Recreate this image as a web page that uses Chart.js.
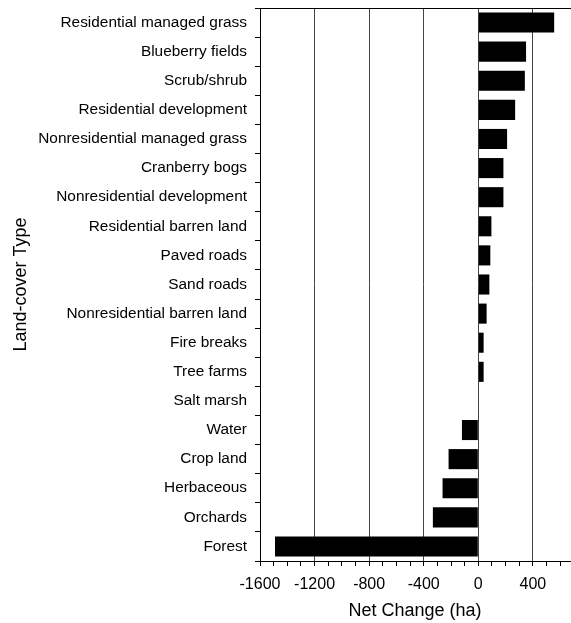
<!DOCTYPE html>
<html>
<head>
<meta charset="utf-8">
<script src="https://cdn.jsdelivr.net/npm/chart.js@4/dist/chart.umd.min.js"></script>
<style>
  html, body { margin: 0; padding: 0; background: #fff; }
  #wrap { width: 571px; height: 623px; }
</style>
</head>
<body>
<div id="wrap"><canvas id="myChart" width="571" height="623"></canvas></div>
<script>
var categories = ["Residential managed grass", "Blueberry fields", "Scrub/shrub",
  "Residential development", "Nonresidential managed grass", "Cranberry bogs",
  "Nonresidential development", "Residential barren land", "Paved roads",
  "Sand roads", "Nonresidential barren land", "Fire breaks", "Tree farms",
  "Salt marsh", "Water", "Crop land", "Herbaceous", "Orchards", "Forest"];
var netChange = [556, 350, 341, 270, 211, 184, 184, 96, 88, 81, 61, 39, 39,
  0, -120, -218, -262, -333, -1490];
var tickLabels = [-1600, -1200, -800, -400, 0, 400];

var font = "'Liberation Sans', Arial, sans-serif";

// top frame line of the plot
var topFrame = {
  id: "topFrame",
  afterDraw: function(chart) {
    var a = chart.chartArea;
    var c = chart.ctx;
    c.save();
    c.strokeStyle = "#000";
    c.lineWidth = 1;
    c.beginPath();
    c.moveTo(a.left, a.top + 0.5);
    c.lineTo(a.right + 1, a.top + 0.5);
    c.stroke();
    c.restore();
  }
};

var ctx = document.getElementById("myChart");
var myChart = new Chart(ctx, {
  type: "bar",
  data: {
    labels: categories,
    datasets: [{
      label: "Net Change (ha)",
      data: netChange,
      backgroundColor: "#000",
      borderColor: "#000",
      borderWidth: 0,
      barPercentage: 0.69,
      categoryPercentage: 1
    }]
  },
  options: {
    indexAxis: "y",
    responsive: false,
    animation: false,
    layout: { padding: { left: 0, right: 1, top: 8, bottom: 0 } },
    plugins: {
      legend: { display: false },
      tooltip: { enabled: false }
    },
    scales: {
      x: {
        min: -1600,
        max: 672,
        afterFit: function(scale) { scale.height = 62; },
        border: { display: true, color: "#000", width: 1 },
        grid: {
          drawOnChartArea: true,
          color: function(c) {
            var v = c.tick ? c.tick.value : null;
            if (v === null || v === -1600) return "rgba(0,0,0,0)";
            return tickLabels.indexOf(v) >= 0 ? "#444" : "rgba(0,0,0,0)";
          },
          tickColor: "#000",
          tickLength: 5,
          lineWidth: 1
        },
        ticks: {
          stepSize: 100,
          includeBounds: false,
          autoSkip: false,
          maxRotation: 0,
          padding: 9,
          color: "#000",
          font: { family: font, size: 16 },
          callback: function(v) {
            return tickLabels.indexOf(v) >= 0 ? String(v) : "";
          }
        },
        title: {
          display: true,
          text: "Net Change (ha)",
          color: "#000",
          font: { family: font, size: 18 },
          padding: { top: 4, bottom: 1 }
        }
      },
      y: {
        afterFit: function(scale) {
          scale.width = 260;
          scale.paddingTop = 0;
          scale.paddingBottom = 0;
        },
        border: { display: true, color: "#000", width: 1 },
        grid: {
          offset: true,
          drawOnChartArea: false,
          tickColor: "#000",
          tickLength: 5
        },
        ticks: {
          padding: 8,
          color: "#000",
          autoSkip: false,
          font: { family: font, size: 15.4 }
        },
        title: {
          display: true,
          text: "Land-cover Type",
          color: "#000",
          font: { family: font, size: 18 },
          padding: { top: 10, bottom: 0 }
        }
      }
    }
  },
  plugins: [topFrame]
});
</script>
</body>
</html>
